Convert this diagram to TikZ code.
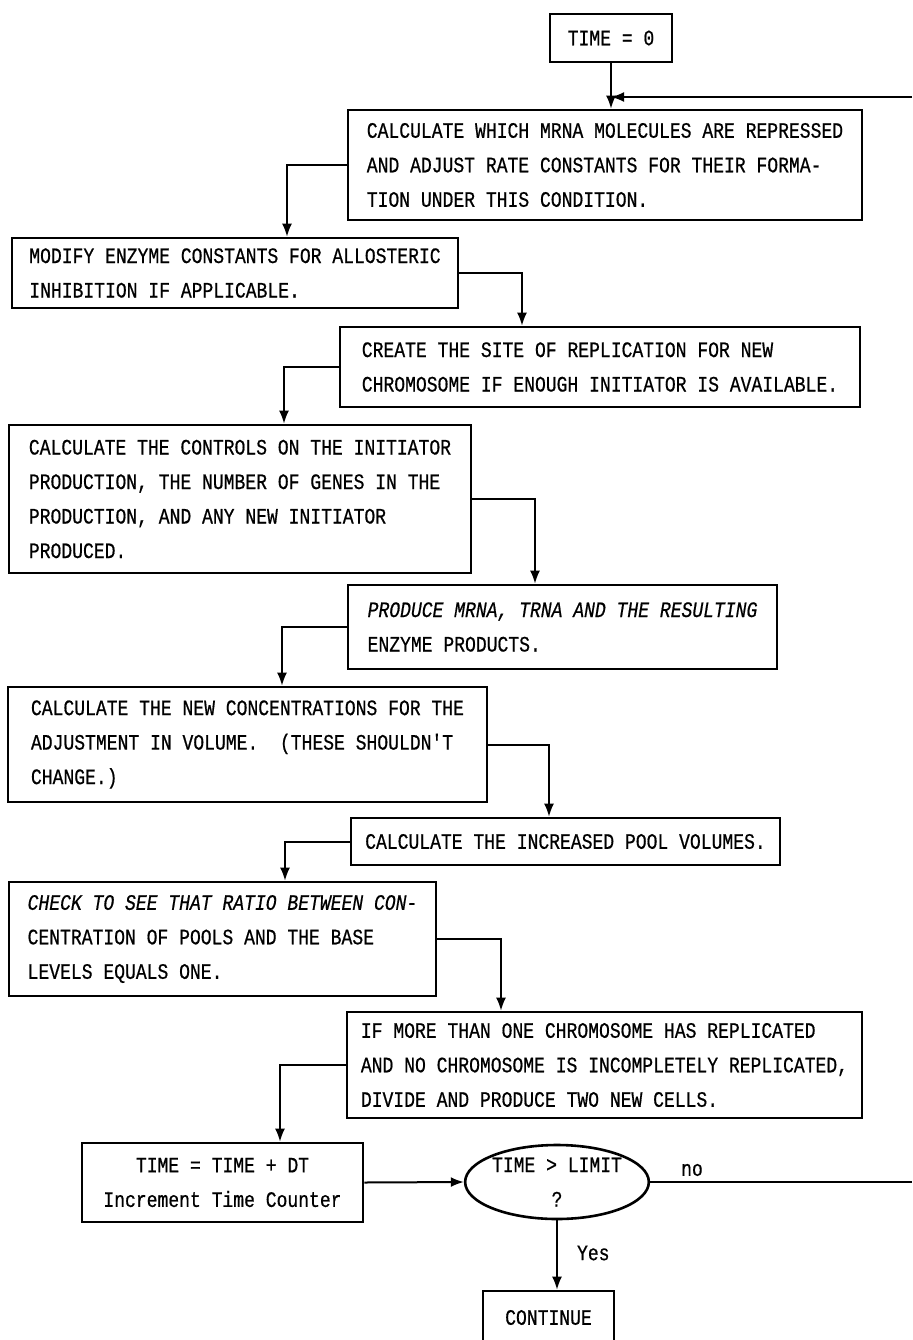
\documentclass[tikz,border=0pt]{standalone}
\usepackage{fontspec}
\setmonofont[FakeStretch=0.82,FakeBold=0.6]{Liberation Mono}
\usetikzlibrary{arrows.meta,shapes.geometric}
\begin{document}
\frenchspacing
\begin{tikzpicture}[x=0.5pt,y=-0.5pt,
  every node/.style={font=\ttfamily\fontsize{11}{17.25}\selectfont},
  box/.style={draw, line width=1.3pt, rectangle, align=left, inner sep=0pt},
  cbox/.style={box, align=center},
  dec/.style={draw, line width=1.3pt, ellipse, align=center, inner sep=0pt},
  arr/.style={line width=1pt, -{Latex[length=6.5pt,width=5pt]}},
  ln/.style={line width=1pt}]
\useasboundingbox (0,0) rectangle (912,1340);
\clip (0,0) rectangle (912,1340);
\fill[white] (0,0) rectangle (912,1340);

\node[cbox, minimum width=61pt, minimum height=24pt] (T0) at (611,38) {TIME = 0};
\node[box, minimum width=257pt, minimum height=55pt] (A) at (605,165)
  {CALCULATE WHICH MRNA MOLECULES ARE REPRESSED\\AND ADJUST RATE CONSTANTS FOR THEIR FORMA-\\TION UNDER THIS CONDITION.};
\node[box, minimum width=223pt, minimum height=35pt] (B) at (235,273)
  {MODIFY ENZYME CONSTANTS FOR ALLOSTERIC\\INHIBITION IF APPLICABLE.};
\node[box, minimum width=260pt, minimum height=40pt] (C) at (600,367)
  {CREATE THE SITE OF REPLICATION FOR NEW\\CHROMOSOME IF ENOUGH INITIATOR IS AVAILABLE.};
\node[box, minimum width=231pt, minimum height=74pt] (D) at (240,499)
  {CALCULATE THE CONTROLS ON THE INITIATOR\\PRODUCTION, THE NUMBER OF GENES IN THE\\PRODUCTION, AND ANY NEW INITIATOR\\PRODUCED.};
\node[box, minimum width=214.5pt, minimum height=42pt] (E) at (562.5,627)
  {{\itshape PRODUCE MRNA, TRNA AND THE RESULTING}\\ENZYME PRODUCTS.};
\node[box, minimum width=239.5pt, minimum height=57.5pt] (F) at (247.5,744.5)
  {CALCULATE THE NEW CONCENTRATIONS FOR THE\\ADJUSTMENT IN VOLUME.\ \ (THESE SHOULDN'T\\CHANGE.)};
\node[box, minimum width=214.5pt, minimum height=23.5pt] (G) at (565.5,841.5)
  {CALCULATE THE INCREASED POOL VOLUMES.};
\node[box, minimum width=213.5pt, minimum height=57pt] (H) at (222.5,939)
  {{\itshape CHECK TO SEE THAT RATIO BETWEEN CON-}\\CENTRATION OF POOLS AND THE BASE\\LEVELS EQUALS ONE.};
\node[box, minimum width=257.5pt, minimum height=53pt] (I) at (604.5,1065)
  {IF MORE THAN ONE CHROMOSOME HAS REPLICATED\\AND NO CHROMOSOME IS INCOMPLETELY REPLICATED,\\DIVIDE AND PRODUCE TWO NEW CELLS.};
\node[cbox, minimum width=140.5pt, minimum height=39.5pt] (J) at (222.5,1182.5)
  {TIME = TIME + DT\\Increment Time Counter};
\node[dec, minimum width=89pt, minimum height=37pt] (K) at (557,1182)
  {TIME > LIMIT\\?};
\node[cbox, minimum width=65.5pt, minimum height=26.5pt] (L) at (548.5,1317.5) {CONTINUE};

\node (nolab) at (692,1170) {no};
\node[anchor=west] (yeslab) at (570,1253) {Yes};

% x positions of vertical legs
\coordinate (ab) at (287,0);
\coordinate (bc) at (522,0);
\coordinate (cd) at (284,0);
\coordinate (de) at (535,0);
\coordinate (ef) at (282,0);
\coordinate (fg) at (549,0);
\coordinate (gh) at (285,0);
\coordinate (hi) at (501,0);
\coordinate (ij) at (280,0);
\coordinate (ret) at (912,97);
\coordinate (noend) at (912,1182);

\draw[arr] (T0.south) -- (T0.south |- A.north);
\draw[arr] (ret) -- (T0.south |- ret);
\draw[arr] (A.west) -| (B.north -| ab);
\draw[arr] (B.east) -| (C.north -| bc);
\draw[arr] (C.west) -| (D.north -| cd);
\draw[arr] (D.east) -| (E.north -| de);
\draw[arr] (E.west) -| (F.north -| ef);
\draw[arr] (F.east) -| (G.north -| fg);
\draw[arr] (G.west) -| (H.north -| gh);
\draw[arr] (H.east) -| (I.north -| hi);
\draw[arr] (I.west) -| (J.north -| ij);
\draw[arr] (J.east) -- (K.west);
\draw[ln] (K.east) -- (noend);
\draw[arr] (K.south) -- (K.south |- L.north);
\end{tikzpicture}
\end{document}
